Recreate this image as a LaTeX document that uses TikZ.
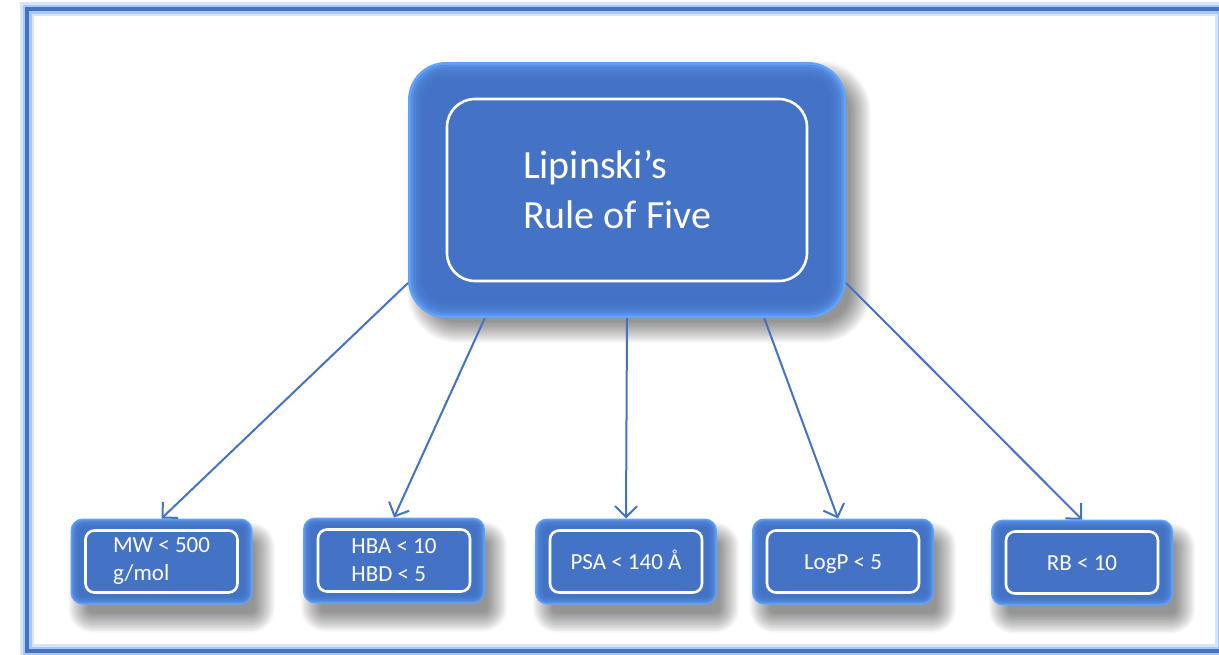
\documentclass[tikz,border=0pt]{standalone}
\usepackage{fontspec}
\setmainfont{Carlito}
\usetikzlibrary{arrows.meta,calc}
\definecolor{base}{HTML}{4472C4}
\definecolor{edge}{HTML}{62A3FA}
\definecolor{halo}{HTML}{A9C7F7}
\definecolor{halolight}{HTML}{D6E5FB}
\pgfdeclarelayer{bg}
\pgfsetlayers{bg,main}
\tikzset{
  boxanchor/.style={inner sep=0pt, outer sep=0pt, text=white, align=flush left},
  bigbox/.style={boxanchor, minimum width=219pt, minimum height=128pt, text width=104pt, font=\fontsize{20}{25}\selectfont},
  smallbox/.style={boxanchor, minimum width=91pt, minimum height=43pt, font=\fontsize{11.5}{14}\selectfont},
  oneline/.style={text height=9pt, text depth=1pt},
  link/.style={draw=base, line width=1pt, -{Straight Barb[length=5.5pt,width=11pt,line width=1pt]}},
  innerline/.style={draw=white, line width=1.3pt},
}
% soft shadow: #1 node, #2 xshift, #3 yshift (pt), #4 radius (pt), #5 blur step (pt)
\newcommand\softshadow[5]{%
  \foreach \s in {-5,...,8}{%
    \fill[black, fill opacity=0.035, rounded corners={max(0.5,#4+\s*#5)*1pt}]
      ([shift={(#2pt-\s*#5pt,#3pt-\s*#5pt)}]#1.south west) rectangle ([shift={(#2pt+\s*#5pt,#3pt+\s*#5pt)}]#1.north east);
  }%
}
% #1 node, #2 corner radius (pt), #3 glow step (pt)
\newcommand\glowfill[3]{%
  \fill[edge, rounded corners=#2pt] (#1.south west) rectangle (#1.north east);
  \foreach \k in {1,...,6}{%
    \fill[base, fill opacity=0.4, rounded corners={#2pt-\k*#3pt}]
      ([shift={(\k*#3pt,\k*#3pt)}]#1.south west) rectangle ([shift={(-\k*#3pt,-\k*#3pt)}]#1.north east);
  }%
}
% #1 node, #2 x inset (pt), #3 y inset (pt), #4 radius (pt)
\newcommand\whiteframe[4]{%
  \draw[innerline, rounded corners=#4pt] ([shift={(#2pt,#3pt)}]#1.south west) rectangle ([shift={(-#2pt,-#3pt)}]#1.north east);
}
\begin{document}
\begin{tikzpicture}[x=0.5pt,y=-0.5pt]
\useasboundingbox (0,0) rectangle (1219,654);

% nodes
\node[bigbox] (main) at (627,190) {Lipinski’s\\Rule of Five};
\node[smallbox, yshift=-2pt] (mw)   at (161.5,557.5) {MW < 500\\g/mol};
\node[smallbox, yshift=-1.5pt] (hb)   at (394,557.5)   {HBA < 10\\HBD < 5};
\node[smallbox, oneline] (psa)  at (626,561.5)   {PSA < 140 Å};
\node[smallbox, oneline] (logp) at (843,561.5)   {LogP < 5};
\node[smallbox, oneline] (rb)   at (1082,562.5)  {RB < 10};

\begin{pgfonlayer}{bg}
  \fill[white] (0,0) rectangle (1219,654);
  % outer frame
  \draw[halolight, line width=7pt] (27,9) rectangle (1222,651);
  \draw[halo, line width=4.5pt] (27,9) rectangle (1222,651);
  \draw[base, line width=1.6pt] (27,9) rectangle (1222,651);
  \softshadow{main}{6}{-6}{19}{0.8}
  \glowfill{main}{19}{1.3}
  \whiteframe{main}{19.5}{18.5}{14}
  \foreach \n in {mw,hb,psa,logp,rb}{
    \softshadow{\n}{5}{-8}{6}{0.75}
    \glowfill{\n}{6}{0.7}
    \whiteframe{\n}{7.5}{6}{4.5}
  }
\end{pgfonlayer}

% connectors
\draw[link] (main.203.2) -- (mw.north);
\draw[link] (main.222.4) -- (hb.north);
\draw[link] (main.south) -- (psa.north);
\draw[link] (main.317.6) -- ([xshift=-2.5pt]logp.north);
\draw[link] (main.337.2) -- (rb.north);
\end{tikzpicture}
\end{document}
